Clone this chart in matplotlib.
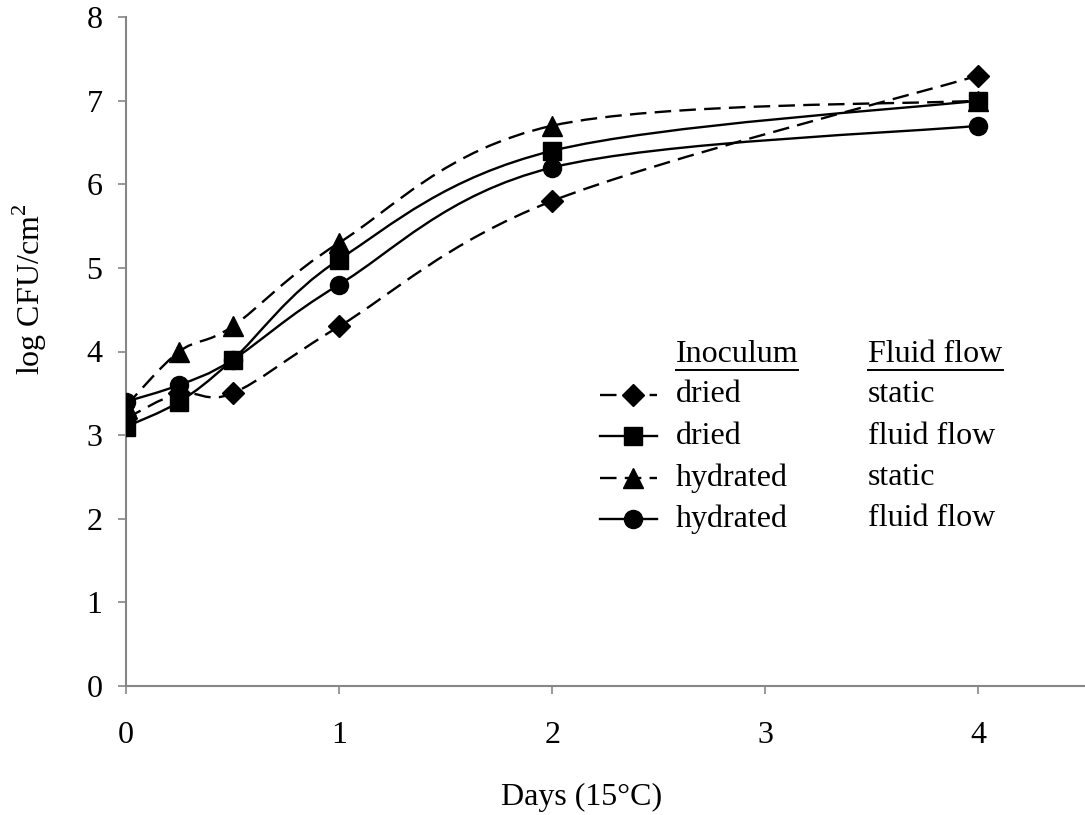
import numpy as np
import matplotlib
matplotlib.use("Agg")
import matplotlib.pyplot as plt
from matplotlib.path import Path
from matplotlib.patches import PathPatch
from matplotlib.lines import Line2D

plt.rcParams['font.family'] = ['Liberation Serif', 'DejaVu Serif']
plt.rcParams['mathtext.fontset'] = 'custom'
plt.rcParams['mathtext.rm'] = 'Liberation Serif'

# data
days = [0, 0.25, 0.5, 1, 2, 4]
dried_static = [3.2, 3.5, 3.5, 4.3, 5.8, 7.3]
dried_flow = [3.1, 3.4, 3.9, 5.1, 6.4, 7.0]
hydrated_static = [3.35, 4.0, 4.3, 5.3, 6.7, 7.0]
hydrated_flow = [3.4, 3.6, 3.9, 4.8, 6.2, 6.7]

inoculum = ["dried", "dried", "hydrated", "hydrated"]
fluid = ["static", "fluid flow", "static", "fluid flow"]
series = [dried_static, dried_flow, hydrated_static, hydrated_flow]
markers = ["D", "s", "^", "o"]
msizes = [11, 13, 14, 13]
styles = ["dashed", "solid", "dashed", "solid"]
mark_z = [3.2, 3.4, 3.1, 3.3]

W, H = 1085, 815
DASH = (0, (7, 3.5))


def smooth_path(x, y):
    # excel style smoothed line (cardinal bezier)
    p = np.column_stack([x, y]).astype(float)
    n = len(p)
    verts = [p[0]]
    codes = [Path.MOVETO]
    for i in range(n - 1):
        p0 = p[i - 1] if i > 0 else p[i]
        p3 = p[i + 2] if i + 2 < n else p[i + 1]
        c1 = p[i] + (p[i + 1] - p0) / 6.0
        c2 = p[i + 1] - (p3 - p[i]) / 6.0
        verts += [c1, c2, p[i + 1]]
        codes += [Path.CURVE4] * 3
    return Path(verts, codes)


def fx(px):
    return px / W


def fy(py):
    return 1 - py / H


fig = plt.figure(figsize=(W / 100, H / 100), dpi=100)
ax = fig.add_axes([126 / W, 1 - 686 / H, 1 - 126 / W, (686 - 17) / H])

for ys, m, ms, ls, z in zip(series, markers, msizes, styles, mark_z):
    dash = DASH if ls == "dashed" else "solid"
    patch = PathPatch(smooth_path(days, ys), facecolor="none", edgecolor="black",
                      lw=1.7, linestyle=dash, zorder=2)
    ax.add_patch(patch)
    ax.plot(days, ys, linestyle="none", marker=m, ms=ms, color="black", zorder=z)

ax.set_xlim(0, 4.5)
ax.set_ylim(0, 8)
ax.set_xticks([0, 1, 2, 3, 4])
ax.set_yticks(range(0, 9))
for s in ["top", "right"]:
    ax.spines[s].set_visible(False)
for s in ["left", "bottom"]:
    ax.spines[s].set_color("#868686")
    ax.spines[s].set_linewidth(1.5)
ax.tick_params(axis="both", direction="out", length=6, width=1.2, color="#868686",
               labelsize=23)
ax.tick_params(axis="x", pad=19)
ax.tick_params(axis="y", pad=11)

fs = 23
# axis titles
fig.text(fx(582), fy(797), "Days (15°C)", fontsize=fs, ha="center", va="center")
fig.text(fx(30), fy(289), "log CFU/cm$^2$", fontsize=fs, ha="center", va="center",
         rotation=90)

# legend built by hand
fig.text(fx(676), fy(355), "Inoculum", fontsize=fs, va="center")
fig.text(fx(868), fy(355), "Fluid flow", fontsize=fs, va="center")
fig.add_artist(Line2D([fx(676), fx(798)], [fy(370), fy(370)], color="black", lw=1.4))
fig.add_artist(Line2D([fx(868), fx(1003)], [fy(370), fy(370)], color="black", lw=1.4))
rows = [395, 436, 478, 519]
for r, inoc, fl, m, ms, ls in zip(rows, inoculum, fluid, markers, msizes, styles):
    dash = DASH if ls == "dashed" else "solid"
    fig.add_artist(Line2D([fx(600), fx(657)], [fy(r), fy(r)], color="black", lw=1.7,
                          linestyle=dash))
    fig.add_artist(Line2D([fx(633)], [fy(r)], marker=m, ms=ms, color="black",
                          linestyle="none"))
    fig.text(fx(676), fy(r), inoc, fontsize=fs, va="center")
    fig.text(fx(868), fy(r), fl, fontsize=fs, va="center")

fig.savefig("out.png", dpi=100)
